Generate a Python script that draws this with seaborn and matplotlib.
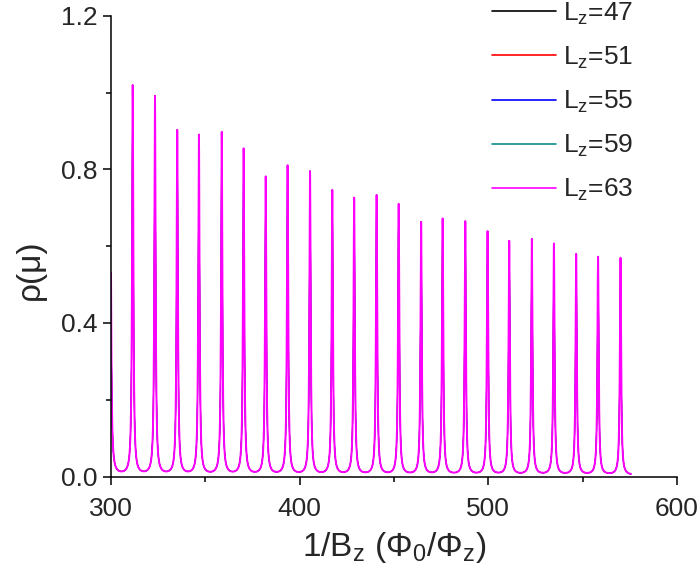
import numpy as np
import pandas as pd
import matplotlib
matplotlib.use("Agg")
import matplotlib.pyplot as plt
from matplotlib.lines import Line2D
import seaborn as sns

# peak positions (1/Bz) and heights, first one is only partly visible at x=300
peak_x = [299.6, 311.5, 323.3, 335.1, 346.6, 358.7, 370.3, 382.0, 393.6, 405.5, 417.3, 428.9,
          440.8, 452.5, 464.4, 475.8, 487.8, 499.6, 511.1, 523.1, 534.8, 546.6, 558.2, 570.1]
peak_h = [1.05, 1.014, 0.986, 0.897, 0.885, 0.892, 0.849, 0.776, 0.805, 0.790, 0.741, 0.721,
          0.728, 0.705, 0.658, 0.667, 0.660, 0.634, 0.609, 0.614, 0.602, 0.575, 0.568, 0.566]
peak_w = 0.40      # half width of each peak
base = 0.003       # floor between peaks
x_start, x_end = 300.0, 575.6

series = ["L$_z$=47", "L$_z$=51", "L$_z$=55", "L$_z$=59", "L$_z$=63"]
colors = ["#000000", "#ff0000", "#0000ff", "#108c8c", "#ff00ff"]

# build the curve from the peaks
x = np.union1d(np.linspace(x_start, x_end, 40000), [p for p in peak_x if p >= x_start])
rho = np.full_like(x, base)
for p, h in zip(peak_x, peak_h):
    rho += h * peak_w**2 / ((x - p)**2 + peak_w**2)

df = pd.concat([pd.DataFrame({"x": x, "rho": rho, "Lz": s}) for s in series], ignore_index=True)

sns.set_style("ticks")
plt.rcParams["font.family"] = ["Liberation Sans", "DejaVu Sans"]
plt.rcParams["mathtext.default"] = "regular"

fig = plt.figure(figsize=(7, 5.75), dpi=100)
ax = fig.add_axes([0.1586, 0.1713, 0.8084, 0.8009])

# the first four curves sit under the magenta one
sns.lineplot(data=df[df["Lz"] != series[-1]], x="x", y="rho", hue="Lz", hue_order=series[:-1],
             palette=colors[:-1], estimator=None, sort=False, linewidth=0.7, legend=False, ax=ax)
sns.lineplot(data=df[df["Lz"] == series[-1]], x="x", y="rho", color=colors[-1],
             estimator=None, sort=False, linewidth=1.4, legend=False, ax=ax)

ax.set_xlim(300, 600)
ax.set_ylim(0, 1.2)
ax.set_xticks([300, 400, 500, 600])
ax.set_xticks([350, 450, 550], minor=True)
ax.set_yticks([0.0, 0.4, 0.8, 1.2])
ax.set_yticks([0.2, 0.6, 1.0], minor=True)
ax.set_yticklabels(["0.0", "0.4", "0.8", "1.2"])
ax.tick_params(which="major", length=6, width=1.1, labelsize=19, direction="out", color="black")
ax.tick_params(axis="x", which="major", pad=9)
ax.tick_params(which="minor", length=3.5, width=1.1, direction="out", color="black")
for side in ["left", "bottom"]:
    ax.spines[side].set_linewidth(1.1)
    ax.spines[side].set_color("black")
sns.despine(ax=ax)

ax.set_xlabel("1/B$_z$ (Φ$_0$/Φ$_z$)", fontsize=24, labelpad=6)
ax.set_ylabel("ρ(μ)", fontsize=24, labelpad=11)
ax.yaxis.label.set_y(0.45)

handles = [Line2D([], [], color=c, lw=1.2) for c in colors]
ax.legend(handles, series, loc="upper left", bbox_to_anchor=(0.703, 0.999),
          bbox_transform=fig.transFigure, frameon=False, fontsize=19,
          handlelength=2.42, handletextpad=0.27, labelspacing=0.68,
          borderpad=0, borderaxespad=0)

fig.savefig("out.png", dpi=100)
